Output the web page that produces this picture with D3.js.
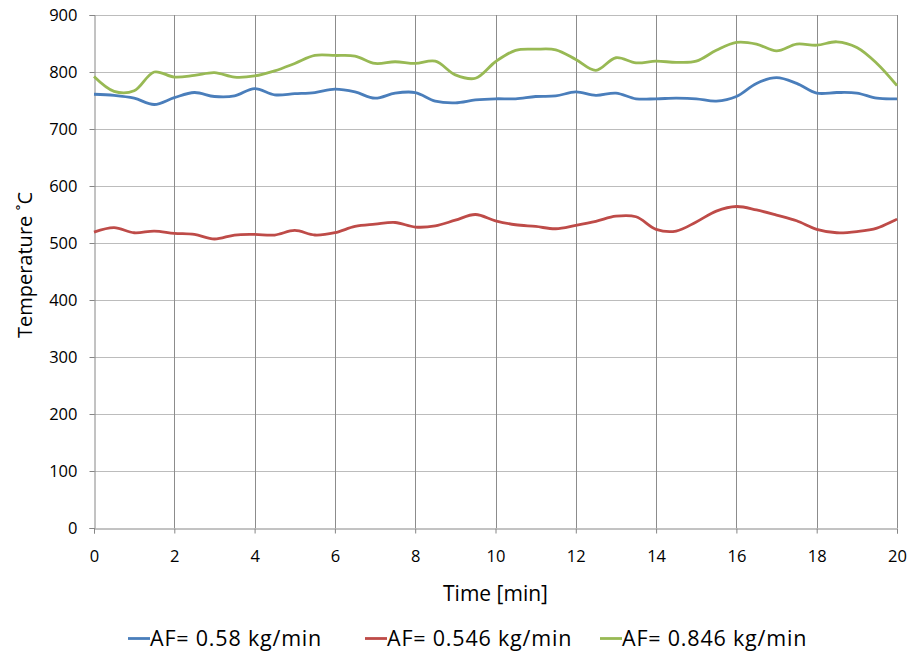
<!DOCTYPE html>
<html><head><meta charset="utf-8">
<script src="https://cdn.jsdelivr.net/npm/d3@7"></script>
<style>body{margin:0;background:#fff;} svg{display:block;} text{font-family:"Open Sans","Liberation Sans",sans-serif;fill:#000;}</style>
</head><body>
<svg id="chart" width="910" height="656"></svg>
<script>
const time = [0,0.5,1,1.5,2,2.5,3,3.5,4,4.5,5,5.5,6,6.5,7,7.5,8,8.5,9,9.5,10,10.5,11,11.5,12,12.5,13,13.5,14,14.5,15,15.5,16,16.5,17,17.5,18,18.5,19,19.5,20];
const blue  = [761,759,754,743,755,764,757,758,771,760,762,764,770,765,754,763,764,749,746,751,753,753,757,758,765,759,763,753,753,754,753,749,757,780,790,780,763,764,763,754,753];
const red   = [519,527,518,521,517,515,507,514,515,514,522,514,518,529,533,536,528,530,540,550,539,532,529,525,531,538,547,546,524,521,537,556,564,558,549,539,524,518,520,526,542];
const green = [792,766,767,800,791,794,799,791,793,802,815,829,829,828,815,818,815,819,795,789,818,838,840,839,822,803,825,816,819,817,819,838,852,849,837,849,847,853,843,815,776];
const seriesNames = ["AF= 0.58 kg/min","AF= 0.546 kg/min","AF= 0.846 kg/min"];
const seriesColors = ["#4a7ebb","#be4b48","#98b954"];
const xTicks = [0,2,4,6,8,10,12,14,16,18,20];
const yTicks = [0,100,200,300,400,500,600,700,800,900];

const svg = d3.select("#chart");
const L=94, R=897, T=15, B=528;
const x = d3.scaleLinear().domain([0,20]).range([L,R]);
const y = d3.scaleLinear().domain([0,900]).range([B,T]);

// grid
svg.append("g").selectAll("line.h").data(yTicks.slice(1)).join("line")
  .attr("x1",L).attr("x2",R).attr("y1",d=>Math.round(y(d))+0.5).attr("y2",d=>Math.round(y(d))+0.5)
  .attr("stroke","#bcbcbc").attr("stroke-width",1.2);
svg.append("g").selectAll("line.v").data(xTicks.slice(1)).join("line")
  .attr("y1",T).attr("y2",B).attr("x1",d=>Math.round(x(d))+0.5).attr("x2",d=>Math.round(x(d))+0.5)
  .attr("stroke","#8c8c8c").attr("stroke-width",1);

// axes
const yAxis = d3.axisLeft(y).tickValues(yTicks).tickSize(5).tickPadding(12);
const gy = svg.append("g").attr("transform",`translate(${L+0.5},0)`).call(yAxis);
const xAxis = d3.axisBottom(x).tickValues(xTicks).tickSize(5).tickPadding(17);
const gx = svg.append("g").attr("transform",`translate(0,${B+0.5})`).call(xAxis);
[gy,gx].forEach(g=>{
  g.select(".domain").attr("stroke","#868686");
  g.selectAll(".tick line").attr("stroke","#868686");
  g.selectAll(".tick text").attr("font-size",16.5).attr("font-family","Open Sans, sans-serif").attr("fill","#000");
});

// lines
const data = [blue, red, green];
const line = d3.line().x((d,i)=>x(time[i])).y(d=>y(d)).curve(d3.curveCatmullRom.alpha(0.5));
data.forEach((s,k)=>{
  svg.append("path").datum(s).attr("d",line).attr("fill","none")
    .attr("stroke",seriesColors[k]).attr("stroke-width",2.8).attr("stroke-linejoin","round");
});

// titles
svg.append("text").attr("x",(L+R)/2).attr("y",601).attr("text-anchor","middle").attr("font-size",21).text("Time [min]");
svg.append("text").attr("transform","translate(32,265) rotate(-90)").attr("text-anchor","middle").attr("font-size",20).text("Temperature ˚C");

// legend
const legX = [128,365,600];
seriesNames.forEach((n,k)=>{
  svg.append("line").attr("x1",legX[k]).attr("x2",legX[k]+22).attr("y1",638.5).attr("y2",638.5)
    .attr("stroke",seriesColors[k]).attr("stroke-width",2.8);
  svg.append("text").attr("x",legX[k]+22).attr("y",646).attr("font-size",21.5).attr("letter-spacing",0.8).text(n);
});
</script>
</body></html>
